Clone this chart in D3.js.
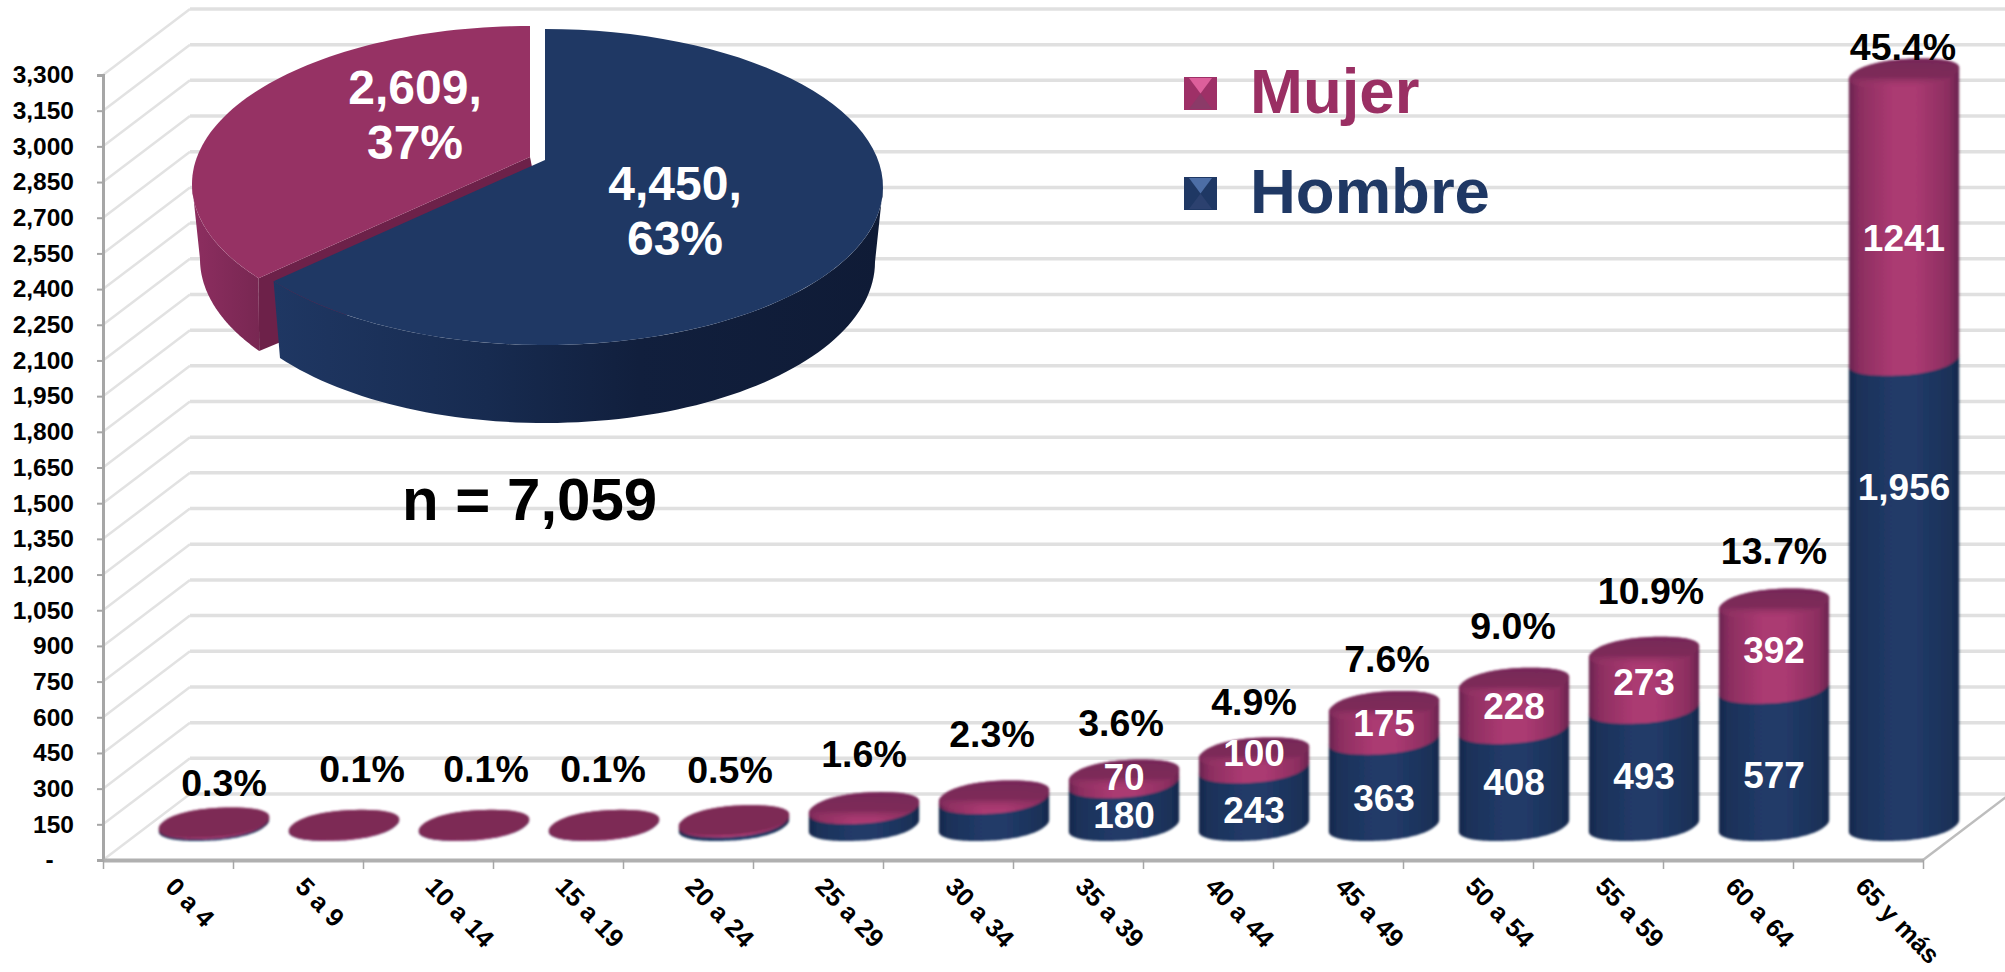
<!DOCTYPE html>
<html>
<head>
<meta charset="utf-8">
<script src="https://cdnjs.cloudflare.com/ajax/libs/d3/7.8.5/d3.min.js"></script>
<style>
  html, body { margin: 0; padding: 0; background: #fff; }
  svg { display: block; }
  text { font-family: "Liberation Sans", Arial, sans-serif; font-weight: bold; }
</style>
</head>
<body>
<div id="chart"></div>
<script>
// datos
var categories = ["0 a 4", "5 a 9", "10 a 14", "15 a 19", "20 a 24", "25 a 29", "30 a 34", "35 a 39", "40 a 44", "45 a 49", "50 a 54", "55 a 59", "60 a 64", "65 y más"];
var hombre = [8, 1, 1, 1, 15, 71, 113, 180, 243, 363, 408, 493, 577, 1956];
var mujer = [13, 6, 6, 6, 20, 42, 49, 70, 100, 175, 228, 273, 392, 1241];
var hombreLabels = ["", "", "", "", "", "", "", "180", "243", "363", "408", "493", "577", "1,956"];
var mujerLabels = ["", "", "", "", "", "", "", "70", "100", "175", "228", "273", "392", "1241"];
var pctLabels = ["0.3%", "0.1%", "0.1%", "0.1%", "0.5%", "1.6%", "2.3%", "3.6%", "4.9%", "7.6%", "9.0%", "10.9%", "13.7%", "45.4%"];
var yTicks = d3.range(0, 3301, 150);
var pieValues = [4450, 2609];
var pieLabels = [["4,450,", "63%"], ["2,609,", "37%"]];
var legendNames = ["Mujer", "Hombre"];

// etiquetas colocadas a mano en el original: desplazamiento respecto a la barra
var pctNudgeX = [10, 18, 12, -1, -4, 0, -2, -3, 0, 3, -1, 7, 0, -1];
var pctLift = [39, 56, 56, 56, 48, 46, 54, 44, 43, 40, 49, 53, 45, 19];
var hombreNudge = [0, 0, 0, 0, 0, 0, 0, 10, 13, 15, 4, 8, 17, -107];
var mujerNudge = [0, 0, 0, 0, 0, 0, 0, 2, -4, 4, 4, 5, 8, 25];

var W = 2005, H = 972;
var depthX = 87, depthY = 66;
var left = 103, right = 1923, floor = 860, top3300 = 75;

var svg = d3.select("#chart").append("svg")
    .attr("width", W)
    .attr("height", H);

var defs = svg.append("defs");

function hGrad(id, stops) {
    var g = defs.append("linearGradient").attr("id", id)
        .attr("x1", 0).attr("x2", 1).attr("y1", 0).attr("y2", 0);
    stops.forEach(function(s) {
        g.append("stop").attr("offset", s[0]).attr("stop-color", s[1]);
    });
}
hGrad("navyBar", [[0, "#14274b"], [0.08, "#1b3158"], [0.4, "#213a68"], [0.6, "#213a68"], [0.92, "#1b3158"], [1, "#14274b"]]);
hGrad("wineBar", [[0, "#6a2450"], [0.1, "#8c2e60"], [0.4, "#ab3a72"], [0.6, "#ab3a72"], [0.9, "#8c2e60"], [1, "#6a2450"]]);
hGrad("navySide", [[0, "#1f3763"], [0.35, "#172b50"], [0.6, "#111f3d"], [1, "#0f1b36"]]);
hGrad("wineSide", [[0, "#8d2e60"], [1, "#782752"]]);

var capGrad = defs.append("linearGradient").attr("id", "cap")
    .attr("x1", 0).attr("x2", 0).attr("y1", 0).attr("y2", 1);
capGrad.append("stop").attr("offset", 0).attr("stop-color", "#762859");
capGrad.append("stop").attr("offset", 0.6).attr("stop-color", "#7c2a58").attr("stop-opacity", 0.95);
capGrad.append("stop").attr("offset", 1).attr("stop-color", "#a83a70").attr("stop-opacity", 0);

defs.append("filter").attr("id", "soft")
    .append("feGaussianBlur").attr("stdDeviation", 0.8);
defs.append("filter").attr("id", "softGrid")
    .append("feGaussianBlur").attr("stdDeviation", 0.6);

// escalas
var y = d3.scaleLinear().domain([0, 3300]).range([floor, top3300]);
var x = d3.scaleBand().domain(categories).range([left, right]);
var xEdge = d3.scaleLinear().domain([0, categories.length]).range([left, right]);

// paredes: rejilla del fondo y diagonales
var grid = svg.append("g").attr("filter", "url(#softGrid)");
grid.selectAll(".back").data(yTicks).enter().append("line")
    .attr("x1", left + depthX)
    .attr("x2", W + 5)
    .attr("y1", function(d) { return y(d) - depthY; })
    .attr("y2", function(d) { return y(d) - depthY; })
    .style("stroke", "#e0e0e0")
    .style("stroke-width", 3.5);
grid.selectAll(".side").data(yTicks).enter().append("line")
    .attr("x1", left)
    .attr("x2", left + depthX)
    .attr("y1", function(d) { return y(d); })
    .attr("y2", function(d) { return y(d) - depthY; })
    .style("stroke", "#e2e2e2")
    .style("stroke-width", 2.5);
grid.append("line")
    .attr("x1", right).attr("y1", floor)
    .attr("x2", right + depthX).attr("y2", floor - depthY)
    .style("stroke", "#bdbdbd")
    .style("stroke-width", 2.5);

// ejes
var yAxis = svg.append("g")
    .attr("transform", "translate(" + left + ",0)")
    .call(d3.axisLeft(y).tickValues(yTicks).tickSize(6).tickPadding(23)
        .tickFormat(function(d) { return d === 0 ? "-\u00a0\u00a0\u00a0" : d3.format(",")(d); }));
yAxis.selectAll("text").style("font-size", "24.5px").style("fill", "#000");
yAxis.selectAll("line").style("stroke", "#a6a6a6").style("stroke-width", 2);
yAxis.select(".domain").style("stroke", "#a6a6a6").style("stroke-width", 3);

var xAxis = svg.append("g")
    .attr("transform", "translate(0," + floor + ")")
    .call(d3.axisBottom(xEdge).tickValues(d3.range(categories.length + 1)).tickSize(9).tickSizeOuter(0).tickFormat(""));
xAxis.selectAll("line").style("stroke", "#a6a6a6").style("stroke-width", 1.5);
xAxis.select(".domain").style("stroke", "#b0b0b0").style("stroke-width", 4);

svg.append("g").selectAll("text").data(categories).enter().append("text")
    .attr("transform", function(d) { return "translate(" + (x(d) + x.bandwidth() / 2 - 4) + "," + (floor + 28) + ") rotate(46)"; })
    .style("font-size", "25.5px")
    .style("fill", "#000")
    .text(function(d) { return d; });

// cilindros: circulo del suelo proyectado en oblicuo, con los bordes algo redondeados
var ra = 51.5, rb = 17, rc = 15, roundP = 0.9;
var barShift = 46, barBase = depthY / 2 + 1;
var lineGen = d3.line();

function rimAt(cx, cy, t) {
    var c = Math.cos(t), s = Math.sin(t);
    var u = (c < 0 ? -1 : 1) * Math.pow(Math.abs(c), roundP);
    var v = (s < 0 ? -1 : 1) * Math.pow(Math.abs(s), roundP);
    return [cx + ra * u + rb * v, cy - rc * v];
}
// angulo donde el contorno es mas ancho
var t0 = d3.greatest(d3.range(0, 1.5, 0.005), function(t) { return rimAt(0, 0, t)[0]; });

function rimPoints(cx, cy, from, to) {
    return d3.range(0, 61).map(function(k) {
        return rimAt(cx, cy, from + (to - from) * k / 60);
    });
}
function bodyPath(cx, y0, y1) {
    return lineGen(rimPoints(cx, y0, t0, t0 - Math.PI).concat(rimPoints(cx, y1, t0 + Math.PI, t0))) + "Z";
}

var bars = svg.append("g").selectAll("g").data(categories).enter().append("g");

bars.each(function(cat, i) {
    var g = d3.select(this);
    var cx = x(cat) + x.bandwidth() / 2 + barShift;
    var y0 = y(0) - barBase;
    var yH = y(hombre[i]) - barBase;
    var yT = y(hombre[i] + mujer[i]) - barBase;
    // el bisel redondeado baja un poco el borde superior
    var bevel = Math.min(8, (y0 - yT) * 0.3);
    var yCap = yT + bevel;

    var shape = g.append("g").attr("filter", "url(#soft)");
    shape.append("path").attr("d", bodyPath(cx, y0, yH)).style("fill", "url(#navyBar)");
    shape.append("path").attr("d", bodyPath(cx, yH, Math.min(yCap, yH))).style("fill", "url(#wineBar)");
    shape.append("path")
        .attr("d", lineGen(rimPoints(cx, yCap, 0, 2 * Math.PI)) + "Z")
        .style("fill", y0 - yT < 12 ? "#7d2a55" : "url(#cap)");

    if (hombreLabels[i]) {
        g.append("text").attr("x", cx).attr("y", (y0 + yH) / 2 + hombreNudge[i]).attr("dy", "0.36em")
            .attr("text-anchor", "middle").style("font-size", "37px").style("fill", "#fff")
            .text(hombreLabels[i]);
    }
    if (mujerLabels[i]) {
        g.append("text").attr("x", cx).attr("y", (yH + yT) / 2 + mujerNudge[i]).attr("dy", "0.36em")
            .attr("text-anchor", "middle").style("font-size", "37px").style("fill", "#fff")
            .text(mujerLabels[i]);
    }
    g.append("text").attr("x", cx + pctNudgeX[i]).attr("y", yT - pctLift[i]).attr("dy", "0.36em")
        .attr("text-anchor", "middle").style("font-size", "37.5px").style("fill", "#000")
        .text(pctLabels[i]);
});

// pastel
var pieAngles = d3.pie().sort(null)(pieValues);
var split = pieAngles[0].endAngle;
// la perspectiva del original abre un poco el angulo aparente
var persp = d3.scaleLinear().domain([0, split, 2 * Math.PI]).range([0, 4.074, 2 * Math.PI]);
var pieTop = {cx: 545, cy: 187, rx: 338, ry: 158};
var pieBottom = {cx: 545, cy: 262, rx: 330, ry: 161};
var apexLift = 27;
var explodeX = -15, explodeY = -3;

function arcPoints(e, from, to, dx, dy) {
    return d3.range(0, 81).map(function(k) {
        var a = from + (to - from) * k / 80;
        return [e.cx + dx + e.rx * Math.sin(a), e.cy + dy - e.ry * Math.cos(a)];
    });
}

var pie = svg.append("g");
var a1 = persp(split);
var tipAngle = a1 + 0.03;
var apexM = [pieTop.cx + explodeX, pieTop.cy - apexLift + explodeY];
var apexH = [pieTop.cx, pieTop.cy - apexLift];
var tipM = arcPoints(pieTop, a1, a1, explodeX, explodeY)[0];
var tipMb = arcPoints(pieBottom, tipAngle, tipAngle, explodeX, explodeY)[0];

// hueco blanco entre las dos rebanadas
pie.append("rect")
    .attr("x", apexM[0])
    .attr("y", pieTop.cy - pieTop.ry - 8)
    .attr("width", apexH[0] - apexM[0])
    .attr("height", pieTop.ry + 8 - apexLift + 6)
    .style("fill", "#fff");

pie.append("path")
    .attr("d", lineGen(arcPoints(pieTop, a1, 1.5 * Math.PI, explodeX, explodeY)
        .concat(arcPoints(pieBottom, 1.5 * Math.PI, tipAngle, explodeX, explodeY))) + "Z")
    .style("fill", "url(#wineSide)");
pie.append("path")
    .attr("d", lineGen([apexM, tipM, tipMb, [apexM[0] + 15, apexM[1] + 75]]) + "Z")
    .style("fill", "#6d2149");
pie.append("path")
    .attr("d", lineGen([apexM].concat(arcPoints(pieTop, a1, 2 * Math.PI, explodeX, explodeY))) + "Z")
    .style("fill", "#963264");
pie.append("path")
    .attr("d", lineGen(arcPoints(pieTop, Math.PI / 2, a1, 0, 0)
        .concat(arcPoints(pieBottom, a1, Math.PI / 2, 0, 0))) + "Z")
    .style("fill", "url(#navySide)");
pie.append("path")
    .attr("d", lineGen([apexH].concat(arcPoints(pieTop, 0, a1, 0, 0))) + "Z")
    .style("fill", "#1f3864");

var pieLabelAt = [[675, 183, 238], [415, 87, 142]];
pieLabels.forEach(function(lines, i) {
    lines.forEach(function(txt, j) {
        pie.append("text")
            .attr("x", pieLabelAt[i][0])
            .attr("y", pieLabelAt[i][j + 1])
            .attr("dy", "0.36em")
            .attr("text-anchor", "middle")
            .style("font-size", "48px")
            .style("fill", "#fff")
            .text(txt);
    });
});

svg.append("text")
    .attr("x", 402).attr("y", 520)
    .style("font-size", "60px")
    .style("fill", "#000")
    .text("n = " + d3.format(",")(d3.sum(pieValues)));

// leyenda
var legendColors = [
    {text: "#9a2f63", top: "#dd5f9b", bottom: "#8b3a68", side: "#9e3067"},
    {text: "#1f3864", top: "#4d6ea6", bottom: "#2c416f", side: "#1f3864"}
];
var legendY = [113, 213];
var legend = svg.append("g").selectAll("g").data(legendNames).enter().append("g");
legend.each(function(name, i) {
    var g = d3.select(this);
    var c = legendColors[i];
    var x0 = 1184, s = 33, y0 = legendY[i] - 36;
    var mid = [x0 + s / 2, y0 + s / 2];
    g.append("rect").attr("x", x0).attr("y", y0).attr("width", s).attr("height", s).style("fill", c.side);
    g.append("path").attr("d", lineGen([[x0 + 5, y0 + 1], [x0 + s - 5, y0 + 1], mid]) + "Z").style("fill", c.top);
    g.append("path").attr("d", lineGen([[x0 + 5, y0 + s - 1], [x0 + s - 5, y0 + s - 1], mid]) + "Z").style("fill", c.bottom);
    g.append("text").attr("x", 1250).attr("y", legendY[i])
        .style("font-size", "63.5px").style("fill", c.text).text(name);
});
</script>
</body>
</html>
